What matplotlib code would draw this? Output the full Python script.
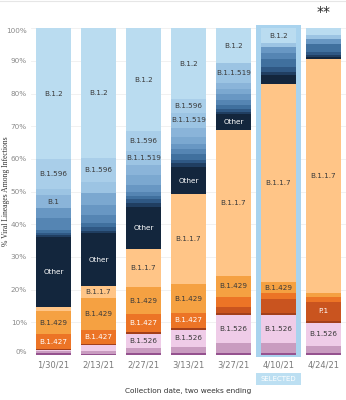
import matplotlib
matplotlib.use('Agg')
import matplotlib.pyplot as plt
import matplotlib.transforms as mtransforms
from matplotlib.patches import Rectangle
from matplotlib.lines import Line2D

# Даты (конец двухнедельного окна)
dates = ['1/30/21', '2/13/21', '2/27/21', '3/13/21', '3/27/21', '4/10/21', '4/24/21']
selected = '4/10/21'

# Доли линий, % (снизу вверх в стопке)
b_1_526_2 = [0.6, 0.4, 0.6, 0.6, 0.7, 0.6, 0.6]
b_1_526_1 = [0.6, 0.8, 1.6, 1.9, 2.9, 3.0, 2.2]
b_1_526 = [0.4, 2.0, 4.1, 5.1, 8.6, 8.6, 7.1]
p_2 = [0.2, 0.1, 0.6, 0.8, 0.7, 0.6, 0.6]
p_1 = [0.0, 0.0, 0.0, 0.0, 1.7, 4.3, 5.8]
b_1_427 = [4.5, 4.3, 5.5, 4.4, 3.2, 1.8, 1.3]
b_1_429 = [7.2, 9.7, 8.5, 8.8, 6.5, 3.5, 1.3]
b_1_1_7 = [1.3, 3.9, 11.5, 27.6, 44.7, 60.5, 71.7]
other = [21.2, 16.0, 13.0, 8.3, 4.7, 2.7, 0.6]
b_1_243 = [0.6, 0.8, 1.2, 1.1, 0.7, 1.0, 0.5]
b_1_1_222 = [0.6, 1.1, 1.0, 1.2, 1.0, 1.6, 1.0]
b_1_232 = [1.0, 1.4, 1.0, 1.7, 1.1, 2.5, 2.6]
b_1_234 = [3.6, 2.3, 1.3, 1.4, 1.5, 1.7, 0.0]
b_1_311 = [3.1, 3.1, 2.1, 1.6, 2.0, 1.9, 1.5]
b_1_1_207 = [0.0, 3.7, 3.0, 2.3, 1.5, 0.0, 0.0]
b_1 = [4.0, 0.0, 3.1, 2.7, 1.6, 0.0, 0.0]
b_1_1_519 = [1.8, 3.4, 4.4, 4.7, 6.1, 1.2, 1.1]
b_1_596 = [9.2, 7.4, 6.0, 4.1, 0.0, 0.0, 0.0]
b_1_2 = [40.1, 39.6, 31.5, 21.7, 10.8, 4.5, 2.1]

series = [
    ('B.1.526.2', b_1_526_2, '#95528f'),
    ('B.1.526.1', b_1_526_1, '#c99cc0'),
    ('B.1.526', b_1_526, '#efcce8'),
    ('P.2', p_2, '#a3401b'),
    ('P.1', p_1, '#c9541f'),
    ('B.1.427', b_1_427, '#ec7426'),
    ('B.1.429', b_1_429, '#f5a142'),
    ('B.1.1.7', b_1_1_7, '#ffc587'),
    ('Other', other, '#13263d'),
    ('B.1.243', b_1_243, '#203e61'),
    ('B.1.1.222', b_1_1_222, '#2f5884'),
    ('B.1.232', b_1_232, '#40709e'),
    ('B.1.234', b_1_234, '#5585b3'),
    ('B.1.311', b_1_311, '#6897c3'),
    ('B.1.1.207', b_1_1_207, '#7ba8d0'),
    ('B.1', b_1, '#8ab4d9'),
    ('B.1.1.519', b_1_1_519, '#9cc4e3'),
    ('B.1.596', b_1_596, '#a9cee9'),
    ('B.1.2', b_1_2, '#badcf0'),
]

# Какие подписи видны на каждом столбце
labels = [
    ['B.1.2', 'B.1.596', 'B.1', 'Other', 'B.1.429', 'B.1.427'],
    ['B.1.2', 'B.1.596', 'Other', 'B.1.1.7', 'B.1.429', 'B.1.427'],
    ['B.1.2', 'B.1.596', 'B.1.1.519', 'Other', 'B.1.1.7', 'B.1.429', 'B.1.427', 'B.1.526'],
    ['B.1.2', 'B.1.596', 'B.1.1.519', 'Other', 'B.1.1.7', 'B.1.429', 'B.1.427', 'B.1.526'],
    ['B.1.2', 'B.1.1.519', 'Other', 'B.1.1.7', 'B.1.429', 'B.1.526'],
    ['B.1.2', 'B.1.1.7', 'B.1.429', 'B.1.526'],
    ['B.1.1.7', 'P.1', 'B.1.526'],
]
light_text = ['Other', 'B.1.427', 'P.1']

fig = plt.figure(figsize=(3.46, 4.0), dpi=100)
ax = fig.add_axes([31 / 346, 45 / 400, 315 / 346, 326.8 / 400])

# тонкая линия по верхнему краю
fig.add_artist(Line2D([0, 1], [0.997, 0.997], transform=fig.transFigure, color='#e6e6e6', linewidth=0.8))

x = list(range(len(dates)))
width = 0.78
sel = dates.index(selected)

# Подсветка выбранного столбца
ax.add_patch(Rectangle((sel - 0.49, -0.6), 0.98, 101.5, facecolor='#a9d3ee',
                       edgecolor='none', zorder=1, clip_on=False))

bottom = [0.0] * len(dates)
for name, vals, color in series:
    ax.bar(x, vals, bottom=bottom, width=width, color=color, linewidth=0, zorder=2)
    for i, v in enumerate(vals):
        if name in labels[i]:
            ax.text(i, bottom[i] + v / 2, name, ha='center', va='center', fontsize=5.2,
                    color='white' if name in light_text else '#3a3a3a', zorder=3)
    bottom = [b + v for b, v in zip(bottom, vals)]

# Оси
ax.set_xlim(-0.5, len(dates) - 0.5)
ax.set_ylim(0, 100)
ax.set_yticks(range(0, 101, 10))
ax.set_yticklabels(['{}%'.format(t) for t in range(0, 101, 10)])
ax.set_xticks(x)
ax.set_xticklabels(dates)
ax.tick_params(axis='y', length=0, pad=3, labelsize=5.2, labelcolor='#8a8a8a')
ax.tick_params(axis='x', length=0, pad=4, labelsize=6, labelcolor='#7a7a7a')
ylabels = ax.get_yticklabels()
ylabels[0].set_va('bottom')
ylabels[-1].set_va('top')
for s in ax.spines.values():
    s.set_visible(False)
ax.grid(axis='y', color='#efefef', linewidth=0.6, zorder=0)
ax.set_axisbelow(True)

ax.set_ylabel('% Viral Lineages Among Infections', fontsize=5.5, family='Liberation Serif', color='#333333')
ax.yaxis.set_label_coords(-0.068, 0.5)
ax.set_xlabel('Collection date, two weeks ending', fontsize=5.3, color='#333333')
ax.xaxis.set_label_coords(0.5, -0.102)

# Метка SELECTED под выбранным столбцом
trans = mtransforms.blended_transform_factory(ax.transData, fig.transFigure)
fig.patches.append(Rectangle((sel - 0.5, 15 / 400), 1.0, 12.3 / 400, transform=trans,
                             facecolor='#bcdff2', edgecolor='none'))
fig.text(sel, 21 / 400, 'SELECTED', transform=trans, ha='center', va='center',
         fontsize=5, color='white')

fig.text(324 / 346, 1 - 12 / 400, '**', ha='center', va='center', fontsize=10, color='#222222')

fig.savefig('out.png', dpi=100)
